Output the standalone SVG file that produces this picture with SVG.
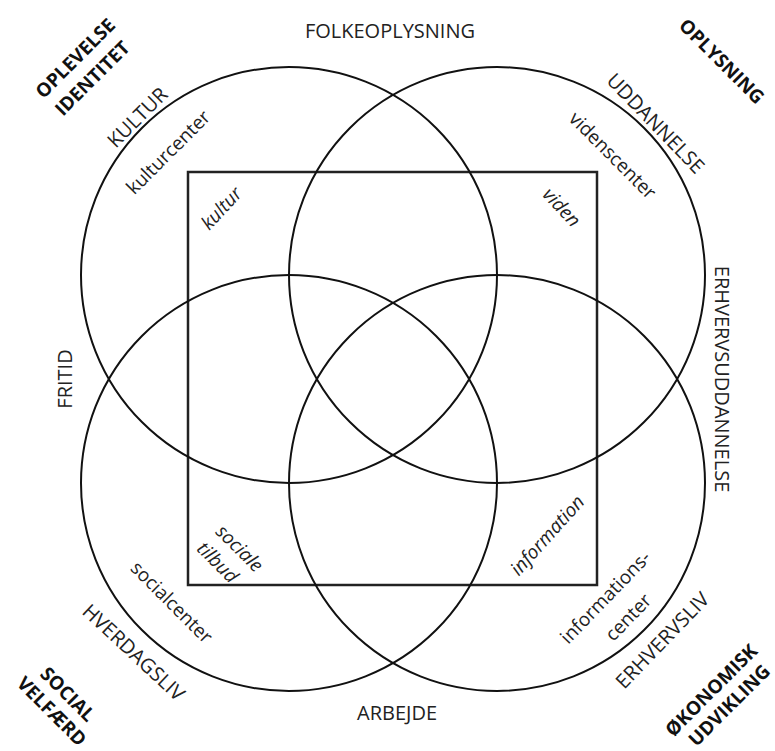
<svg xmlns="http://www.w3.org/2000/svg" width="775" height="751" viewBox="0 0 775 751">
<style>
text{font-family:"Open Sans","Liberation Sans",sans-serif;fill:#222;text-anchor:middle;dominant-baseline:central}
.cap{font-size:20px}
.bold{font-size:19px;font-weight:bold;fill:#111}
.low{font-size:19px}
.it{font-size:19px;font-style:italic}
.ring{fill:none;stroke:#111;stroke-width:2}
.box{fill:none;stroke:#222;stroke-width:2.5}
</style>
<rect width="775" height="751" fill="#fff"/>
<g id="frame"><rect class="box" x="188" y="172" width="409" height="413"/></g>
<g id="circles">
<circle id="c-tl" class="ring" cx="289" cy="275" r="208"/>
<circle id="c-tr" class="ring" cx="497" cy="275" r="208"/>
<circle id="c-bl" class="ring" cx="289" cy="483" r="208"/>
<circle id="c-br" class="ring" cx="497" cy="483" r="208"/>
</g>
<g id="corner-tl">
<text class="bold" transform="translate(75,58) rotate(-45)">OPLEVELSE</text>
<text class="bold" transform="translate(92,78) rotate(-45)">IDENTITET</text>
</g>
<g id="corner-tr"><text class="bold" transform="translate(722,61) rotate(45)">OPLYSNING</text></g>
<g id="corner-bl">
<text class="bold" transform="translate(68,694) rotate(45)">SOCIAL</text>
<text class="bold" transform="translate(52,711) rotate(45)">VELFÆRD</text>
</g>
<g id="corner-br">
<text class="bold" transform="translate(711,690) rotate(-45)">ØKONOMISK</text>
<text class="bold" transform="translate(729,705) rotate(-45)">UDVIKLING</text>
</g>
<g id="sides">
<text class="cap" x="390" y="30">FOLKEOPLYSNING</text>
<text class="cap" transform="translate(64,379) rotate(-90)">FRITID</text>
<text class="cap" transform="translate(722,379) rotate(90)">ERHVERVSUDDANNELSE</text>
<text class="cap" x="397" y="712">ARBEJDE</text>
</g>
<g id="circle-labels">
<text class="cap" transform="translate(137,117) rotate(-45)">KULTUR</text>
<text class="low" transform="translate(168,152) rotate(-45)">kulturcenter</text>
<text class="cap" transform="translate(656,123) rotate(46)">UDDANNELSE</text>
<text class="low" transform="translate(613,155) rotate(45)">videnscenter</text>
<text class="low" transform="translate(172,602) rotate(45)">socialcenter</text>
<text class="cap" transform="translate(134,652) rotate(43)">HVERDAGSLIV</text>
<text class="low" transform="translate(605,597) rotate(-46)">informations-</text>
<text class="low" transform="translate(628,617) rotate(-46)">center</text>
<text class="cap" transform="translate(662,640) rotate(-46)">ERHVERVSLIV</text>
</g>
<g id="inner-labels">
<text class="it" transform="translate(221,208) rotate(-47)">kultur</text>
<text class="it" transform="translate(562,207) rotate(47)">viden</text>
<text class="it" transform="translate(240,548) rotate(45)">sociale</text>
<text class="it" transform="translate(218,562) rotate(45)">tilbud</text>
<text class="it" transform="translate(547,535) rotate(-48)">information</text>
</g>
</svg>
